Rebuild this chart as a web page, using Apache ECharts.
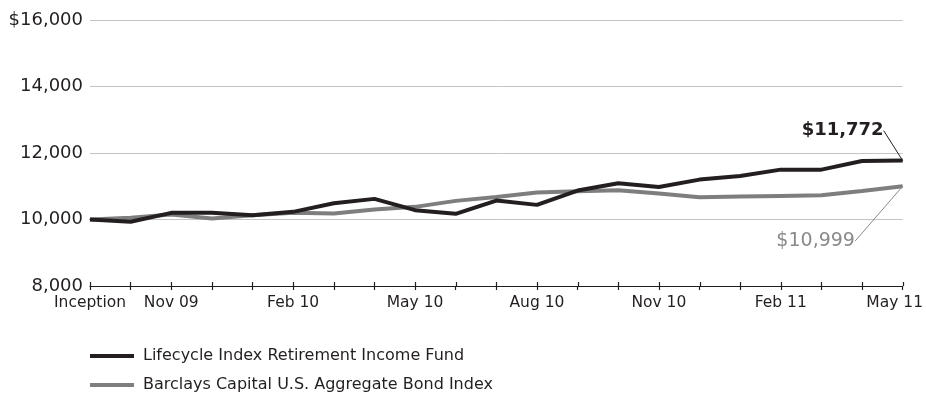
<!DOCTYPE html>
<html>
<head>
<meta charset="utf-8">
<style>
  html, body { margin: 0; padding: 0; background: #fff; }
  #chart { width: 926px; height: 395px; }
</style>
<script src="https://cdn.jsdelivr.net/npm/echarts@6/dist/echarts.min.js"></script>
</head>
<body>
<div id="chart"></div>
<script>
// Monthly growth of a $10,000 investment, Sep 2009 (inception) to May 2011
const months = ['Inception', 'Oct 09', 'Nov 09', 'Dec 09', 'Jan 10', 'Feb 10', 'Mar 10', 'Apr 10',
  'May 10', 'Jun 10', 'Jul 10', 'Aug 10', 'Sep 10', 'Oct 10', 'Nov 10', 'Dec 10',
  'Jan 11', 'Feb 11', 'Mar 11', 'Apr 11', 'May 11'];
const fundValues = [10000, 9930, 10200, 10200, 10130, 10230, 10490, 10620, 10280, 10170, 10570,
  10440, 10870, 11090, 10980, 11200, 11310, 11500, 11500, 11760, 11772];
const indexValues = [10000, 10050, 10150, 10030, 10130, 10200, 10180, 10300, 10380, 10560, 10680,
  10810, 10850, 10880, 10780, 10670, 10690, 10710, 10730, 10860, 10999];
const labelledMonths = ['Inception', 'Nov 09', 'Feb 10', 'May 10', 'Aug 10', 'Nov 10', 'Feb 11', 'May 11'];
const fundName = 'Lifecycle Index Retirement Income Fund';
const indexName = 'Barclays Capital U.S. Aggregate Bond Index';

const FONT = 'DejaVu Sans';
const DARK = '#231f20';
const GREY = '#7e7e7e';
const GREY_TEXT = '#8a8a8a';
const last = months.length - 1;

function withEndLabel(values, color, weight, size) {
  return values.map((v, i) => i === last ? {
    value: v,
    label: {
      show: true, position: 'inside', fontFamily: FONT, fontSize: size, fontWeight: weight,
      color: color, formatter: p => '$' + p.value.toLocaleString('en-US')
    },
    labelLine: { show: true, lineStyle: { color: color, width: 1 } }
  } : v);
}

const gridBox = { left: 90, right: 23, top: 20, bottom: 109, containLabel: false };
const tickStyle = { color: DARK, width: 1.2 };
const legendText = { fontFamily: FONT, fontSize: 16, color: DARK, padding: [0, 0, 0, 4] };
const legendBase = { left: 90, padding: 0, itemWidth: 44, itemHeight: 4, itemGap: 0, icon: 'rect', textStyle: legendText };

const chart = echarts.init(document.getElementById('chart'), null, { renderer: 'canvas' });
chart.setOption({
  animation: false,
  grid: [Object.assign({}, gridBox), Object.assign({}, gridBox)],
  legend: [
    Object.assign({ top: 348, data: [fundName] }, legendBase),
    Object.assign({ top: 377, data: [indexName] }, legendBase)
  ],
  xAxis: [
    {
      type: 'category', data: months, boundaryGap: false, gridIndex: 0,
      axisLine: { show: true, lineStyle: tickStyle },
      axisTick: { show: true, interval: 0, length: 4, lineStyle: tickStyle },
      splitLine: { show: false },
      axisLabel: {
        interval: (i, v) => labelledMonths.indexOf(v) >= 0,
        margin: 9, fontFamily: FONT, fontSize: 15.5, color: DARK,
        formatter: (v, i) => i === last ? '{end|' + v + '}' : v,
        rich: { end: { fontFamily: FONT, fontSize: 15.5, color: DARK, padding: [0, 16, 0, 0] } }
      }
    },
    {
      // upward half of the crossing tick marks
      type: 'category', data: months, boundaryGap: false, gridIndex: 1, position: 'bottom',
      axisLine: { show: false },
      axisTick: { show: true, inside: true, interval: 0, length: 4, lineStyle: tickStyle },
      splitLine: { show: false },
      axisLabel: { show: false }
    }
  ],
  yAxis: [
    {
      type: 'value', min: 8000, max: 16000, interval: 2000, gridIndex: 0,
      axisLine: { show: false }, axisTick: { show: false },
      splitLine: { lineStyle: { color: '#c4c4c4', width: 1 } },
      axisLabel: {
        margin: 7, fontFamily: FONT, fontSize: 18, color: DARK,
        formatter: v => (v === 16000 ? '$' : '') + v.toLocaleString('en-US')
      }
    },
    {
      type: 'value', min: 8000, max: 16000, interval: 2000, gridIndex: 1, show: false,
      splitLine: { show: false }
    }
  ],
  series: [
    {
      name: indexName, type: 'line', data: withEndLabel(indexValues, GREY_TEXT, 'normal', 19),
      symbol: 'circle', symbolSize: 1, showSymbol: true, itemStyle: { color: GREY },
      lineStyle: { color: GREY, width: 4 }, z: 2,
      labelLayout: p => p.dataIndex === last ? { dx: -87, dy: 55 } : {}
    },
    {
      name: fundName, type: 'line', data: withEndLabel(fundValues, DARK, 'bold', 18),
      symbol: 'circle', symbolSize: 1, showSymbol: true, itemStyle: { color: DARK },
      lineStyle: { color: DARK, width: 4 }, z: 3,
      labelLayout: p => p.dataIndex === last ? { dx: -60, dy: -30 } : {}
    }
  ]
});
</script>
</body>
</html>
